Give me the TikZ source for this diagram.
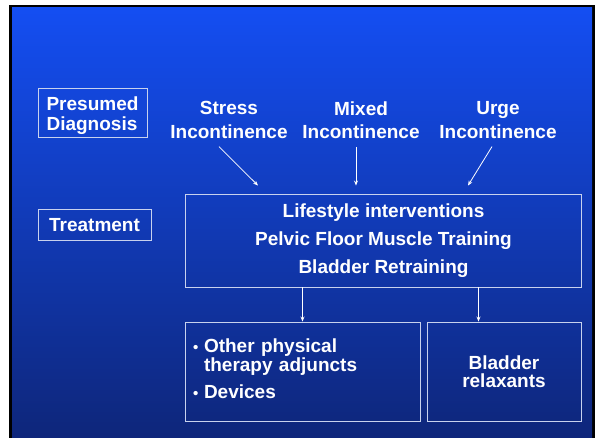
\documentclass[tikz,border=0pt]{standalone}
\usepackage{fontspec}
\setmainfont{Liberation Sans}
\usetikzlibrary{arrows.meta}
\definecolor{topblue}{RGB}{20,78,242}
\definecolor{botblue}{RGB}{14,38,122}
\definecolor{edgec}{RGB}{200,210,238}
\begin{document}
\begin{tikzpicture}[x=1pt,y=-1pt,
  lbl/.style={text=white,font=\bfseries\fontsize{19}{23.5}\selectfont,align=center,inner sep=0pt},
  box/.style={draw=edgec,line width=0.9pt,text=white,font=\bfseries\fontsize{19}{20}\selectfont,inner sep=0pt},
  arr/.style={draw=white,line width=0.8pt,-{Stealth[length=5pt,width=4pt]}}]
\useasboundingbox (0,0) rectangle (597,438);
\fill[black] (9,5) rectangle (595,438);
\shade[top color=topblue,bottom color=botblue] (12,8) rectangle (592,438);
% left labels
\node[box,minimum width=109pt,minimum height=49pt,align=left] (pd) at (92.5,112.5) {\rule{0pt}{20pt}Presumed\\Diagnosis};
\node[box,minimum width=113pt,minimum height=31pt] (tr) at (94.5,225) {Treatment};
% top labels
\node[lbl] (si) at (229,120) {Stress\\Incontinence};
\node[lbl] (mi) at (361,120) {Mixed\\Incontinence};
\node[lbl] (ui) at (498,120) {Urge\\Incontinence};
% main box
\node[box,minimum width=396pt,minimum height=93pt,align=center,font=\bfseries\fontsize{19}{28}\selectfont] (main) at (383.5,240.5) {Lifestyle interventions\\Pelvic Floor Muscle Training\\Bladder Retraining};
% lower boxes
\node[box,minimum width=235pt,minimum height=99pt,inner xsep=8pt,text width=219pt,align=left,font=\bfseries\fontsize{19}{19}\selectfont] (ol) at (302.5,371.5) {\makebox[11pt][l]{\fontsize{15}{15}\selectfont\textbullet}Other physical\\\hspace*{11pt}therapy adjuncts\\[8pt]\makebox[11pt][l]{\fontsize{15}{15}\selectfont\textbullet}Devices\rule[-5pt]{0pt}{5pt}};
\node[box,minimum width=154pt,minimum height=99pt,align=center,font=\bfseries\fontsize{19}{18.5}\selectfont] (br) at (504,371.5) {Bladder\\relaxants};
% arrows
\draw[arr] ([xshift=-10pt,yshift=-8pt]si.south) -- ([xshift=-125.5pt,yshift=8pt]main.north);
\draw[arr] ([xshift=-5pt,yshift=-8pt]mi.south) -- ([xshift=-27.5pt,yshift=8pt]main.north);
\draw[arr] ([xshift=-6pt,yshift=-8pt]ui.south) -- ([xshift=84.5pt,yshift=8pt]main.north);
\draw[arr] (main.south -| ol.north) -- (ol.north);
\coordinate (brin) at ([xshift=-25.5pt]br.north);
\draw[arr] (main.south -| brin) -- (brin);
\end{tikzpicture}
\end{document}
